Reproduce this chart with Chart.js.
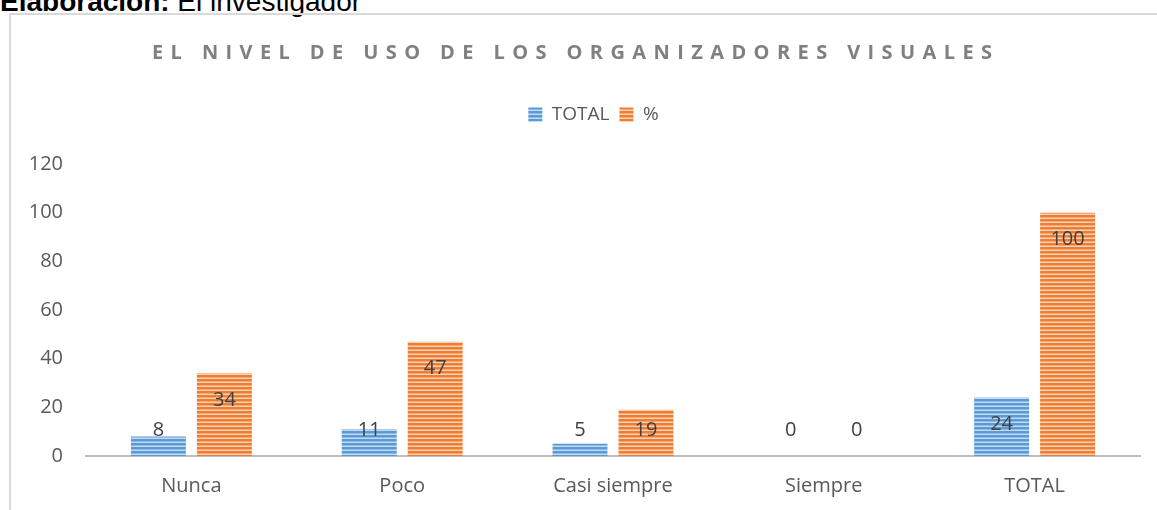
<!DOCTYPE html>
<html>
<head>
<meta charset="utf-8">
<script src="https://cdn.jsdelivr.net/npm/chart.js@4"></script>
<style>
  body { margin: 0; background: #fff; width: 1157px; height: 510px; overflow: hidden; position: relative; }
  #note { position: absolute; left: 0; top: -14px; font-family: "Liberation Sans", Arial, sans-serif; font-size: 28px; color: #000; white-space: nowrap; }
  #box { position: absolute; left: 9px; top: 13px; width: 1146px; height: 495px; border-left: 2px solid #d9d9d9; border-top: 2px solid #d9d9d9; }
</style>
</head>
<body>
<div id="note"><b>Elaboración:</b> El investigador</div>
<div id="box"><canvas id="chart" width="1146" height="495"></canvas></div>
<script>
var categories = ['Nunca', 'Poco', 'Casi siempre', 'Siempre', 'TOTAL'];
var totalValues = [8, 11, 5, 0, 24];
var percentValues = [34, 47, 19, 0, 100];
var seriesNames = ['TOTAL', '%'];
var chartTitle = 'EL NIVEL DE USO DE LOS ORGANIZADORES VISUALES';

// striped fill like the excel bars
function stripes(dark, mid, light) {
  var c = document.createElement('canvas');
  c.width = 4; c.height = 4;
  var g = c.getContext('2d');
  g.fillStyle = dark; g.fillRect(0, 0, 4, 2);
  g.fillStyle = mid; g.fillRect(0, 2, 4, 1);
  g.fillStyle = light; g.fillRect(0, 3, 4, 1);
  return g.createPattern(c, 'repeat');
}

var blueFill = stripes('#5b9bd5', '#8cb9e3', '#c3daf0');
var orangeFill = stripes('#ed7d31', '#f3a673', '#f9d3b8');

var titlePlugin = {
  id: 'spacedTitle',
  afterLayout: function(chart) {
    // move the legend up and right to where excel puts it
    var lg = chart.legend;
    lg.top -= 30; lg.bottom -= 30;
    lg.left += 18; lg.right += 18;
  },
  afterDraw: function(chart) {
    var ctx = chart.ctx;
    ctx.save();
    ctx.font = 'bold 20px "Open Sans"';
    ctx.fillStyle = '#808080';
    ctx.letterSpacing = '7.4px';
    ctx.textAlign = 'left';
    ctx.textBaseline = 'middle';
    ctx.fillText(chartTitle, 141, 38);
    ctx.restore();
  }
};

var labelPlugin = {
  id: 'barLabels',
  afterDatasetsDraw: function(chart) {
    var ctx = chart.ctx;
    var base = chart.scales.y.getPixelForValue(0);
    ctx.save();
    ctx.font = '20px "Open Sans"';
    ctx.fillStyle = '#404040';
    ctx.textAlign = 'center';
    ctx.textBaseline = 'middle';
    chart.data.datasets.forEach(function(ds, i) {
      chart.getDatasetMeta(i).data.forEach(function(bar, j) {
        var y = Math.min(bar.y + 27, base - 26);
        ctx.fillText(String(ds.data[j]), bar.x, y);
      });
    });
    ctx.restore();
  }
};

var ctx = document.getElementById('chart').getContext('2d');
new Chart(ctx, {
  type: 'bar',
  data: {
    labels: categories,
    datasets: [
      { label: seriesNames[0], data: totalValues, backgroundColor: blueFill, borderWidth: 0 },
      { label: seriesNames[1], data: percentValues, backgroundColor: orangeFill, borderWidth: 0 }
    ]
  },
  options: {
    responsive: false,
    animation: false,
    layout: { padding: { left: 0, right: 17, top: 110, bottom: 0 } },
    categoryPercentage: 0.626,
    barPercentage: 0.833,
    plugins: {
      title: { display: false },
      tooltip: { enabled: false },
      legend: {
        position: 'top',
        labels: {
          boxWidth: 14,
          boxHeight: 14,
          padding: 10,
          color: '#595959',
          font: { family: 'Open Sans', size: 19 }
        }
      }
    },
    scales: {
      x: {
        grid: { display: false, drawTicks: false },
        border: { color: '#bfbfbf', width: 2 },
        ticks: { color: '#595959', font: { family: 'Open Sans', size: 20 }, padding: 18 },
        afterFit: function(s) { s.height = 54; }
      },
      y: {
        min: 0,
        max: 120,
        grid: { display: false, drawTicks: false },
        border: { display: false },
        ticks: { stepSize: 20, color: '#595959', font: { family: 'Open Sans', size: 20 }, padding: 23 },
        afterFit: function(s) { s.width = 75; }
      }
    }
  },
  plugins: [titlePlugin, labelPlugin]
});
</script>
</body>
</html>
